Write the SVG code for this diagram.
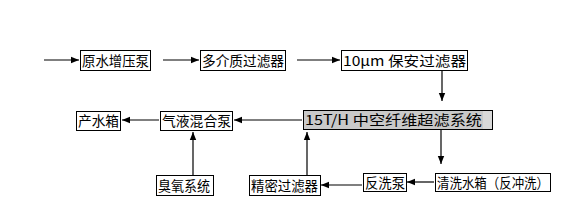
<svg xmlns="http://www.w3.org/2000/svg" width="584" height="219" viewBox="0 0 584 219">
<defs>
<style>
.box{fill:#fff;stroke:#000;stroke-width:1}
.gray{fill:#d9d9d9;stroke:#000;stroke-width:1}
.t{font-family:"Noto Sans CJK SC","Liberation Sans",sans-serif;font-size:14px;fill:#000}
.ln{stroke:#000;stroke-width:1.2;fill:none}
</style>
<marker id="ah" viewBox="0 0 10 10" refX="10" refY="5" markerWidth="8" markerHeight="8" markerUnits="userSpaceOnUse" orient="auto">
<path d="M0,1 L10,5 L0,9 Z" fill="#000"/>
</marker>
</defs>
<rect width="584" height="219" fill="#fff"/>
<g id="connectors">
<line class="ln" x1="44" y1="60" x2="79" y2="60" marker-end="url(#ah)"/>
<line class="ln" x1="163" y1="60" x2="199" y2="60" marker-end="url(#ah)"/>
<line class="ln" x1="297" y1="60" x2="340" y2="60" marker-end="url(#ah)"/>
<line class="ln" x1="442" y1="70" x2="442" y2="101" marker-end="url(#ah)"/>
<line class="ln" x1="302" y1="120" x2="234" y2="120" marker-end="url(#ah)"/>
<line class="ln" x1="159" y1="120" x2="122" y2="120" marker-end="url(#ah)"/>
<line class="ln" x1="441" y1="130" x2="441" y2="164" marker-end="url(#ah)"/>
<line class="ln" x1="434" y1="182" x2="407" y2="182" marker-end="url(#ah)"/>
<line class="ln" x1="362" y1="185" x2="321" y2="185" marker-end="url(#ah)"/>
<line class="ln" x1="307" y1="175" x2="307" y2="132" marker-end="url(#ah)"/>
<line class="ln" x1="193" y1="175" x2="193" y2="132" marker-end="url(#ah)"/>
</g>
<g id="n1"><rect class="box" x="80.5" y="50.5" width="70" height="20"/><text class="t" x="82" y="65.5" textLength="67" lengthAdjust="spacingAndGlyphs">原水增压泵</text></g>
<g id="n2"><rect class="box" x="200.5" y="50.5" width="85" height="20"/><text class="t" x="202" y="65.5" textLength="82" lengthAdjust="spacingAndGlyphs">多介质过滤器</text></g>
<g id="n3"><rect class="box" x="341.5" y="50.5" width="126" height="20"/><text class="t" x="343" y="65.5" textLength="123" lengthAdjust="spacingAndGlyphs">10μm 保安过滤器</text></g>
<g id="n4"><rect class="gray" x="303.5" y="110.5" width="189" height="19"/><rect x="304" y="111" width="179" height="18" fill="#c9c9c9"/><text class="t" x="305" y="125" textLength="177" lengthAdjust="spacingAndGlyphs">15T/H 中空纤维超滤系统</text></g>
<g id="n5"><rect class="box" x="160.5" y="111.5" width="72" height="19"/><text class="t" x="162" y="126" textLength="69" lengthAdjust="spacingAndGlyphs">气液混合泵</text></g>
<g id="n6"><rect class="box" x="76.5" y="111.5" width="44" height="19"/><text class="t" x="78" y="126" textLength="41" lengthAdjust="spacingAndGlyphs">产水箱</text></g>
<g id="n7"><rect class="box" x="435.5" y="173.5" width="115" height="18"/><text class="t" x="437" y="187.5" textLength="112" lengthAdjust="spacingAndGlyphs">清洗水箱（反冲洗）</text></g>
<g id="n8"><rect class="box" x="363.5" y="173.5" width="43" height="18"/><text class="t" x="365" y="187.5" textLength="40" lengthAdjust="spacingAndGlyphs">反洗泵</text></g>
<g id="n9"><rect class="box" x="249.5" y="175.5" width="71" height="20"/><text class="t" x="251" y="190.5" textLength="67" lengthAdjust="spacingAndGlyphs">精密过滤器</text></g>
<g id="n10"><rect class="box" x="156.5" y="175.5" width="57" height="20"/><text class="t" x="158" y="190.5" textLength="52" lengthAdjust="spacingAndGlyphs">臭氧系统</text></g>
</svg>
